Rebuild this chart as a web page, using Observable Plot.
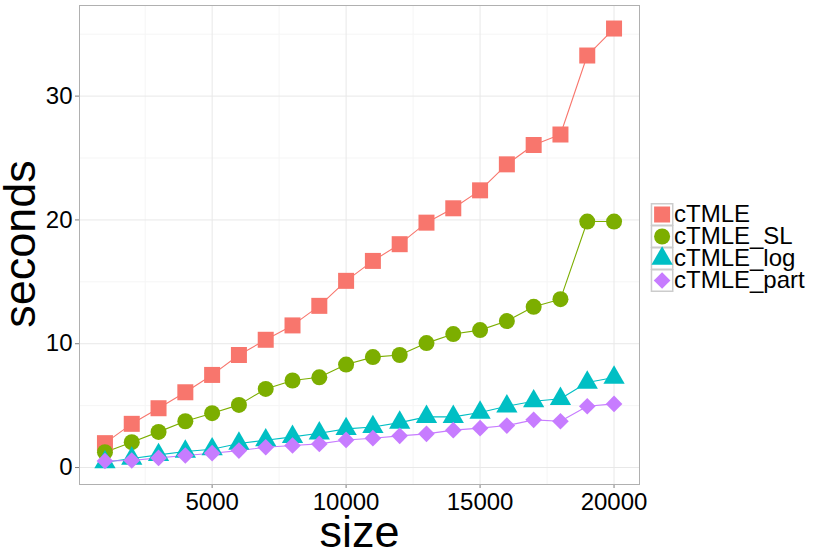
<!DOCTYPE html>
<html>
<head>
<meta charset="utf-8">
<script src="https://cdn.jsdelivr.net/npm/d3@7"></script>
<script src="https://cdn.jsdelivr.net/npm/@observablehq/plot@0.6"></script>
<style>
  html, body { margin: 0; padding: 0; background: white; }
</style>
</head>
<body>
<div id="chart"></div>
<script>
const sizes = [1000, 2000, 3000, 4000, 5000, 6000, 7000, 8000, 9000, 10000,
               11000, 12000, 13000, 14000, 15000, 16000, 17000, 18000, 19000, 20000];
const series = ["cTMLE", "cTMLE_SL", "cTMLE_log", "cTMLE_part"];
const cTMLE      = [1.97, 3.53, 4.79, 6.08, 7.48, 9.09, 10.32, 11.48, 13.06, 15.08,
                    16.69, 18.04, 19.78, 20.94, 22.39, 24.49, 26.05, 26.9, 33.28, 35.46];
const cTMLE_SL   = [1.24, 2.05, 2.88, 3.74, 4.39, 5.06, 6.35, 7.03, 7.29, 8.32,
                    8.92, 9.09, 10.05, 10.78, 11.10, 11.83, 12.98, 13.60, 19.87, 19.87];
const cTMLE_log  = [0.43, 0.73, 1.02, 1.29, 1.48, 1.94, 2.21, 2.48, 2.77, 3.12,
                    3.28, 3.63, 4.09, 4.09, 4.44, 4.95, 5.36, 5.55, 6.87, 7.27];
const cTMLE_part = [0.53, 0.57, 0.78, 0.97, 1.16, 1.37, 1.64, 1.78, 1.91, 2.23,
                    2.37, 2.56, 2.72, 3.02, 3.18, 3.39, 3.85, 3.74, 4.95, 5.14];
const xTicks = [5000, 10000, 15000, 20000];
const xMinor = [2500, 7500, 12500, 17500];
const yTicks = [0, 10, 20, 30];
const yMinor = [5, 15, 25, 35];

const colors = ["#F8766D", "#7CAE00", "#00BFC4", "#C77CFF"];
const symbols = ["square", "circle", "triangle", "diamond2"];
const radii = [9.03, 8, 7.9, 7.5];
const legendDy = [-30.5, -8.5, 13.5, 35.5];

const valuesBySeries = [cTMLE, cTMLE_SL, cTMLE_log, cTMLE_part];
const table = series.flatMap((s, i) =>
  sizes.map((x, j) => ({size: x, seconds: valuesBySeries[i][j], method: s})));

const chart = Plot.plot({
  width: 830,
  height: 554,
  marginLeft: 79,
  marginRight: 191,
  marginTop: 5,
  marginBottom: 70,
  style: {fontFamily: "'Liberation Sans', Arial, Helvetica, sans-serif", background: "white", color: "black"},
  x: {domain: [50, 20950]},
  y: {domain: [-1.37, 37.32]},
  color: {domain: series, range: colors},
  marks: [
    Plot.gridX(xMinor, {stroke: "#f5f5f5", strokeOpacity: 1}),
    Plot.gridY(yMinor, {stroke: "#f5f5f5", strokeOpacity: 1}),
    Plot.gridX(xTicks, {stroke: "#e8e8e8", strokeOpacity: 1}),
    Plot.gridY(yTicks, {stroke: "#e8e8e8", strokeOpacity: 1}),
    Plot.axisX({ticks: xTicks, tickFormat: d3.format("d"), tickSize: 4, tickPadding: 4,
                fontSize: 24, label: null, stroke: "#7f7f7f"}),
    Plot.axisY({ticks: yTicks, tickSize: 4, tickPadding: 3, fontSize: 24, label: null, stroke: "#7f7f7f"}),
    Plot.line(table, {x: "size", y: "seconds", stroke: "method", z: "method", strokeWidth: 1.1}),
    ...series.map((s, i) =>
      Plot.dot(table.filter(d => d.method === s),
        {x: "size", y: "seconds", fill: "method", symbol: symbols[i], r: radii[i]})),
    Plot.frame({stroke: "#b0b0b0"}),
    Plot.text(["size"], {frameAnchor: "bottom", dy: 62, lineAnchor: "bottom", fontSize: 45, fill: "black"}),
    Plot.text(["seconds"], {frameAnchor: "left", rotate: -90, textAnchor: "middle", lineAnchor: "bottom",
                            dx: -45, dy: -1, fontSize: 45, fill: "black"}),
    ...series.flatMap((s, i) => [
      Plot.dot([s], {frameAnchor: "right", dx: 22.6, dy: legendDy[i], symbol: "square", r: 12,
                     fill: "white", stroke: "#cccccc"}),
      Plot.dot([s], {frameAnchor: "right", dx: 22.6, dy: legendDy[i], symbol: symbols[i],
                     r: radii[i], fill: d => d}),
      Plot.text([s], {frameAnchor: "right", dx: 34.5, dy: legendDy[i], text: d => d,
                      textAnchor: "start", fontSize: 24, fill: "black"})
    ])
  ]
});
document.getElementById("chart").appendChild(chart);
</script>
</body>
</html>
